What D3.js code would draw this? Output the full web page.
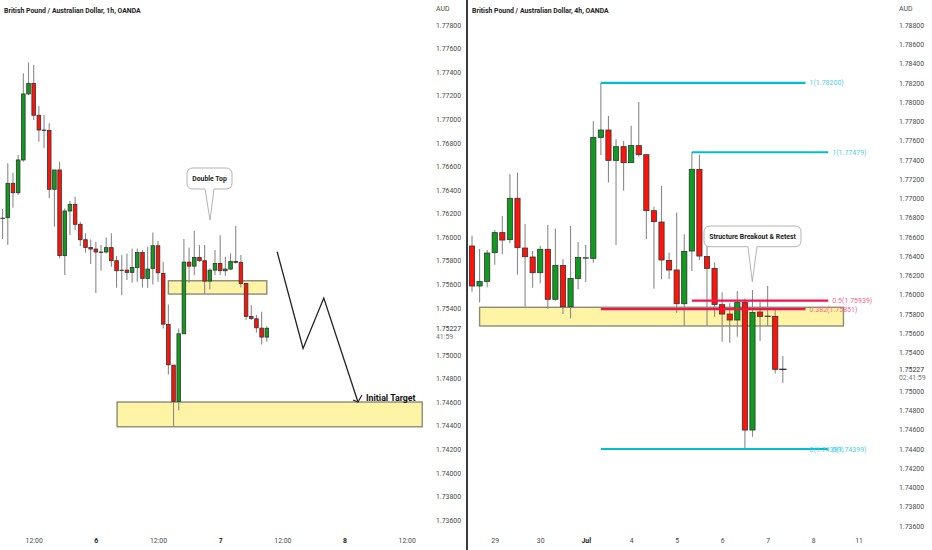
<!DOCTYPE html>
<html><head><meta charset="utf-8">
<script src="https://cdn.jsdelivr.net/npm/d3@7"></script>
<style>
html,body{margin:0;padding:0;background:#fff}
svg{display:block}
text{font-family:Roboto,"Liberation Sans",sans-serif}
</style></head><body>
<svg id="c" width="932" height="550"></svg>
<script>
// ---- 1h chart (left)
const leftOpen=[1.76159,1.76165,1.76457,1.76377,1.76655,1.77215,1.77305,1.77034,1.76909,1.76906,1.76406,1.76570,1.75843,1.76222,1.76278,1.76109,1.75978,1.75913,1.75899,1.75874,1.75874,1.75911,1.75800,1.75720,1.75720,1.75701,1.75743,1.75870,1.75650,1.75735,1.75927,1.75692,1.75259,1.74914,1.74606,1.75180,1.75788,1.75754,1.75828,1.75800,1.75627,1.75720,1.75777,1.75715,1.75729,1.75794,1.75786,1.75607,1.75327,1.75307,1.75228,1.75152];
const leftClose=[1.76161,1.76457,1.76377,1.76655,1.77215,1.77305,1.77034,1.76909,1.76906,1.76406,1.76570,1.75843,1.76222,1.76278,1.76109,1.75978,1.75913,1.75899,1.75874,1.75871,1.75911,1.75800,1.75715,1.75717,1.75701,1.75743,1.75870,1.75650,1.75729,1.75927,1.75698,1.75262,1.74917,1.74606,1.75180,1.75788,1.75754,1.75828,1.75800,1.75627,1.75720,1.75777,1.75715,1.75729,1.75794,1.75786,1.75607,1.75327,1.75310,1.75231,1.75152,1.75227];
const leftHigh=[1.76239,1.76626,1.76547,1.76697,1.77390,1.77483,1.77461,1.77113,1.77036,1.76966,1.76570,1.76640,1.76244,1.76307,1.76343,1.76131,1.76032,1.75981,1.75961,1.75933,1.75998,1.76032,1.75840,1.75848,1.75862,1.75904,1.75904,1.75890,1.75918,1.76040,1.75967,1.75791,1.75429,1.74914,1.75225,1.75984,1.75913,1.76054,1.75933,1.75933,1.75735,1.75890,1.76017,1.75834,1.75862,1.76094,1.75848,1.75607,1.75423,1.75339,1.75367,1.75245];
const leftLow=[1.75984,1.75933,1.76250,1.76358,1.76640,1.77206,1.76994,1.76810,1.76754,1.76329,1.76089,1.75820,1.75679,1.76018,1.76060,1.75925,1.75868,1.75772,1.75526,1.75715,1.75862,1.75749,1.75570,1.75508,1.75636,1.75613,1.75621,1.75571,1.75571,1.75599,1.75621,1.75225,1.74835,1.74391,1.74532,1.75180,1.75613,1.75678,1.75791,1.75517,1.75556,1.75678,1.75678,1.75672,1.75720,1.75777,1.75573,1.75296,1.75296,1.75191,1.75090,1.75112];
const leftPriceTicks=[1.778,1.776,1.774,1.772,1.770,1.768,1.766,1.764,1.762,1.760,1.758,1.756,1.754,1.750,1.748,1.746,1.744,1.742,1.740,1.738,1.736];
const leftTimeBars=[6,18,30,42,54,66,78];
const leftTimeLabels=["12:00","6","12:00","7","12:00","8","12:00"];
const leftBoldLabels=["6","7","8"];
const leftBoxes=[[22.1,81,1.74601,1.74391],[32,51,1.75630,1.75517]];
const leftPathBars=[53,58,62,68.6];
const leftPathPrices=[1.75876,1.75056,1.75483,1.74601];

// ---- 4h chart (right)
const rightOpen=[1.76506,1.76091,1.76139,1.76437,1.76645,1.76572,1.77001,1.76485,1.76392,1.76229,1.76472,1.75953,1.76305,1.75876,1.76170,1.76381,1.76378,1.77634,1.77710,1.77395,1.77537,1.77371,1.77548,1.77454,1.76873,1.76755,1.76357,1.76257,1.75907,1.76454,1.77302,1.76398,1.76274,1.75897,1.75800,1.75738,1.75921,1.74596,1.75821,1.75779,1.75776,1.75226];
const rightClose=[1.76091,1.76139,1.76433,1.76645,1.76568,1.77001,1.76489,1.76395,1.76229,1.76472,1.75953,1.76305,1.75876,1.76170,1.76388,1.76384,1.77634,1.77710,1.77395,1.77537,1.77371,1.77548,1.77454,1.76873,1.76759,1.76361,1.76257,1.75907,1.76450,1.77302,1.76402,1.76274,1.75900,1.75800,1.75738,1.75921,1.74596,1.75817,1.75776,1.75775,1.75226,1.75227];
const rightHigh=[1.76613,1.76475,1.76465,1.76672,1.76818,1.77250,1.77267,1.76734,1.76454,1.76510,1.76724,1.76689,1.76368,1.76714,1.76548,1.76516,1.77800,1.78200,1.77859,1.77613,1.77596,1.77755,1.78001,1.77454,1.76914,1.77129,1.76440,1.76855,1.76627,1.77479,1.77457,1.76637,1.76336,1.76025,1.75911,1.76039,1.75962,1.76049,1.75928,1.76091,1.75848,1.75364];
const rightLow=[1.76032,1.75921,1.76077,1.76312,1.76420,1.76534,1.76209,1.75876,1.76074,1.76119,1.75856,1.75939,1.75800,1.75755,1.76056,1.76132,1.76333,1.77451,1.77164,1.76516,1.77080,1.77371,1.77433,1.76575,1.76063,1.76160,1.76163,1.75814,1.75675,1.76246,1.76360,1.75675,1.75772,1.75513,1.75502,1.75565,1.74399,1.74527,1.75520,1.75675,1.75184,1.75087];
const rightPriceTicks=[1.788,1.786,1.784,1.782,1.780,1.778,1.776,1.774,1.772,1.770,1.768,1.766,1.764,1.762,1.760,1.758,1.756,1.754,1.750,1.748,1.746,1.744,1.742,1.740,1.738,1.736];
const rightDayBars=[3,9,15,21,27,33,39,45,51];
const rightDayLabels=["29","30","Jul","4","5","6","7","8","11"];
const rightBoldLabels=["Jul"];
const rightBoxes=[[1,49,1.75870,1.75676]];
const fibBars0=[17,29,29,17,17];
const fibBars1=[44,47,47,44,47];
const fibPrices=[1.78200,1.77479,1.75939,1.75851,1.74399];
const fibLabels=["1(1.78200)","1(1.77479)","0.5(1.75939)","0.382(1.75851)","0(1.74399)"];
const fibColors=["#00bcd4","#00bcd4","#f5134f","#f5134f","#00bcd4"];
const lastPrice=1.75227;

const svg=d3.select("#c");
const GREEN="#0e9b1e",RED="#ff1208",EDGE="#333",WICK="#8a8a8a",BOX="#fff3a6",BOXEDGE="#8b8b7a";
const TXT="#4a4a4a";
const FS=6.9;

const xL=d3.scaleLinear().domain([0,51]).range([2.6,266.8]);
const yL=d3.scaleLinear().domain([1.778,1.736]).range([25,520]);
const xR=d3.scaleLinear().domain([0,41]).range([472,782.8]);
const yR=d3.scaleLinear().domain([1.788,1.736]).range([25,526]);

function boxes(g,data,x,y){
  g.selectAll("rect.box").data(data).join("rect").attr("class","box")
   .attr("x",d=>x(d[0])).attr("width",d=>x(d[1])-x(d[0]))
   .attr("y",d=>y(d[2])).attr("height",d=>y(d[3])-y(d[2]))
   .attr("fill",BOX).attr("stroke",BOXEDGE).attr("stroke-width",1.4);
}
function candles(g,o,h,l,c,x,y,w){
  const idx=d3.range(o.length);
  g.selectAll("line.w").data(idx).join("line").attr("class","w")
   .attr("x1",i=>x(i)).attr("x2",i=>x(i)).attr("y1",i=>y(h[i])).attr("y2",i=>y(l[i]))
   .attr("stroke",WICK).attr("stroke-width",1.1);
  g.selectAll("rect.b").data(idx).join("rect").attr("class","b")
   .attr("x",i=>x(i)-w/2).attr("width",w)
   .attr("y",i=>y(Math.max(o[i],c[i])))
   .attr("height",i=>Math.max(0.4,Math.abs(y(o[i])-y(c[i]))))
   .attr("fill",i=>c[i]>=o[i]?GREEN:RED)
   .attr("stroke",EDGE).attr("stroke-width",0.8);
}
function priceAxis(tx,y,ticks){
  const g=svg.append("g").attr("transform",`translate(${tx},0)`)
    .call(d3.axisRight(y).tickValues(ticks).tickFormat(d3.format(".5f")).tickSize(0).tickPadding(0));
  g.select(".domain").remove();
  g.selectAll("text").attr("font-size",FS).attr("fill",TXT).style("font-family","Roboto,sans-serif");
  return g;
}
function timeAxis(x,bars,labels,bold){
  const g=svg.append("g").attr("transform","translate(0,538)")
    .call(d3.axisBottom(x).tickValues(bars).tickFormat((d,i)=>labels[i]).tickSize(0).tickPadding(0));
  g.select(".domain").remove();
  g.selectAll("text").attr("font-size",FS).attr("fill",TXT)
    .style("font-family","Roboto,sans-serif")
    .attr("font-weight",(d,i)=>bold.includes(labels[i])?"700":"400")
    .attr("fill",(d,i)=>bold.includes(labels[i])?"#222":TXT);
}
function label(x,y,t,size,weight,fill,anchor){
  return svg.append("text").attr("x",x).attr("y",y).text(t).attr("font-size",size)
    .attr("font-weight",weight||400).attr("fill",fill||TXT).attr("text-anchor",anchor||"start");
}
function callout(x0,x1,y0,y1,t0,t1,tipx,tipy,t){
  const r=6;
  const p=`M${x0+r},${y0}H${x1-r}Q${x1},${y0} ${x1},${y0+r}V${y1-r}Q${x1},${y1} ${x1-r},${y1}H${t1}L${tipx},${tipy}L${t0},${y1}H${x0+r}Q${x0},${y1} ${x0},${y1-r}V${y0+r}Q${x0},${y0} ${x0+r},${y0}Z`;
  svg.append("path").attr("d",p).attr("fill","#fff").attr("stroke","#aaa").attr("stroke-width",0.9);
  label((x0+x1)/2,(y0+y1)/2+2.5,t,6.9,700,"#222","middle");
}

// left pane
const gl=svg.append("g");
boxes(gl,leftBoxes,xL,yL);
candles(gl,leftOpen,leftHigh,leftLow,leftClose,xL,yL,3.6);
priceAxis(436,yL,leftPriceTicks);
timeAxis(xL,leftTimeBars,leftTimeLabels,leftBoldLabels);
label(4,12.5,"British Pound / Australian Dollar, 1h, OANDA",6.9,700,"#222");
label(436,10.5,"AUD",FS,400,TXT);
label(436,yL(lastPrice)+2.5,d3.format(".5f")(lastPrice),FS,400,"#333");
label(436,yL(lastPrice)+10.5,"41:59",FS,400,"#777");

const pathLine=d3.line().x(d=>xL(d[0])).y(d=>yL(d[1]));
const pts=leftPathBars.map((b,i)=>[b,leftPathPrices[i]]);
svg.append("path").attr("d",pathLine(pts)).attr("fill","none").attr("stroke","#222").attr("stroke-width",1.3);
const tip=[xL(leftPathBars[3]),yL(leftPathPrices[3])];
svg.append("path").attr("d",`M${tip[0]-5},${tip[1]-2}L${tip[0]},${tip[1]}L${tip[0]+4},${tip[1]-7}`).attr("fill","none").attr("stroke","#222").attr("stroke-width",1.2);
label(366,401,"Initial Target",8.8,700,"#111");
callout(187,232,168,189,205,214,210,220,"Double Top");

// divider
svg.append("rect").attr("x",466).attr("y",0).attr("width",2).attr("height",550).attr("fill","#3a3a44");

// right pane
const gr=svg.append("g");
boxes(gr,rightBoxes,xR,yR);
candles(gr,rightOpen,rightHigh,rightLow,rightClose,xR,yR,5.2);
priceAxis(899,yR,rightPriceTicks);
timeAxis(xR,rightDayBars,rightDayLabels,rightBoldLabels);
label(472,12.5,"British Pound / Australian Dollar, 4h, OANDA",6.9,700,"#222");
label(899,10.5,"AUD",FS,400,TXT);
label(899,yR(lastPrice)+2.5,d3.format(".5f")(lastPrice),FS,400,"#333");
label(899,yR(lastPrice)+10.5,"02:41:59",FS,400,"#777");
svg.append("line").attr("x1",xR(41)-4).attr("x2",xR(41)+4).attr("y1",yR(lastPrice)).attr("y2",yR(lastPrice)).attr("stroke","#333").attr("stroke-width",0.9);

fibPrices.forEach((p,i)=>{
  svg.append("line").attr("x1",xR(fibBars0[i])).attr("x2",xR(fibBars1[i]))
    .attr("y1",yR(p)).attr("y2",yR(p)).attr("stroke",fibColors[i]).attr("stroke-width",2.2);
  const lx=xR(fibBars1[i])+4;
  const c=fibColors[i]==="#00bcd4"?"#4dd0e1":"#f8648a";
  label(lx,yR(p)+2.5,fibLabels[i],7,400,c);
});
label(xR(44)+4,yR(fibPrices[4])+2.5,fibLabels[4],7,400,"#4dd0e1");
callout(704,801,226,246.7,748,757,752.3,281.7,"Structure Breakout & Retest");
</script>
</body></html>
